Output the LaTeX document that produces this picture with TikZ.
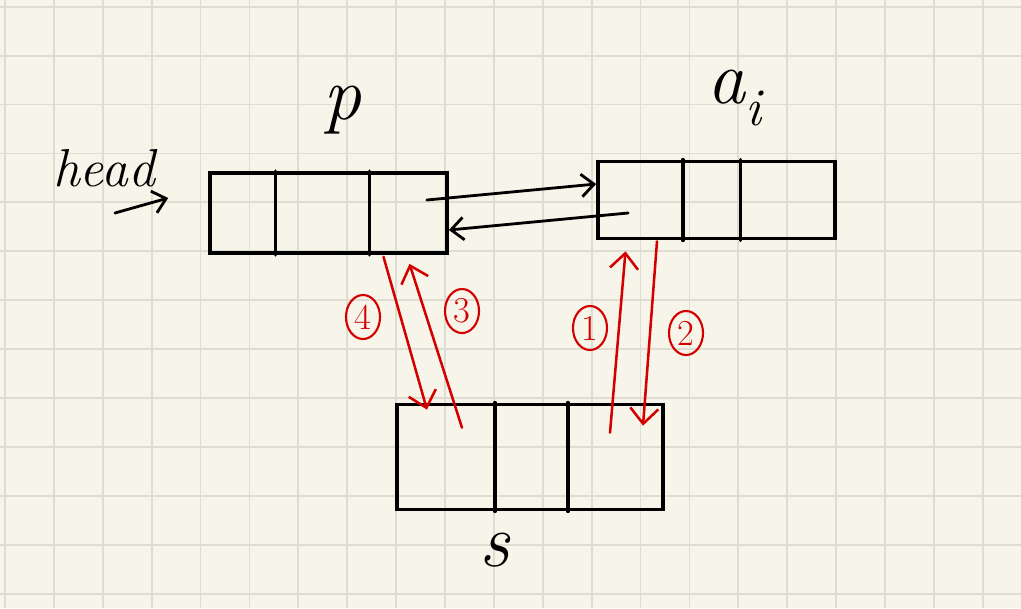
\documentclass[tikz,border=0pt]{standalone}
\usepackage{xcolor}
\usepackage{tikz}
\usetikzlibrary{positioning,calc,arrows.meta,shapes.geometric}

\definecolor{paper}{HTML}{F7F5E9}
\definecolor{gridc}{HTML}{DEDDD2}
\definecolor{pen}{HTML}{D40000}

\tikzset{
  listnode/.style={draw, rectangle, line width=2.6pt, inner sep=0pt},
  field/.style={line width=2.6pt, line cap=round},
  ptr/.style={line width=2pt, line cap=round, -{Straight Barb[length=9pt,width=16pt,line width=2pt]}},
  redptr/.style={draw=pen, line width=1.8pt, line cap=round, -{Straight Barb[length=11pt,width=20pt,line width=1.8pt]}},
  num/.style={draw=pen, text=pen, ellipse, line width=1.5pt, inner sep=0pt, minimum width=0.85cm, minimum height=1.1cm, font=\fontsize{26}{30}\selectfont},
  gridline/.style={draw=gridc, line width=1.3pt},
  biglabel/.style={font=\fontsize{54}{60}\selectfont\itshape}
}

\begin{document}
\begin{tikzpicture}[x=0.025cm, y=-0.025cm]
    % paper
    \fill[paper] (0,0) rectangle (1021,608);
    \useasboundingbox (0,0) rectangle (1021,608);
    \foreach \k in {0,...,20} \draw[gridline] (5+48.89*\k,0) -- (5+48.89*\k,608);
    \foreach \k in {0,...,12} \draw[gridline] (0,6.7+48.92*\k) -- (1021,6.7+48.92*\k);

    % Nodes
    \node (p) at (328.5,213) [listnode, minimum width=5.925cm, minimum height=2cm] {};
    \node (ai) at (716.5,200) [listnode, minimum width=5.925cm, minimum height=1.925cm] {};
    \node (s) at (530,457) [listnode, minimum width=6.65cm, minimum height=2.625cm] {};

    % fields
    \foreach \n/\f in {p/0.28, p/0.67, ai/0.36, ai/0.60, s/0.37, s/0.64}
      \draw[field] ($(\n.north west)!\f!(\n.north east)$) -- ($(\n.south west)!\f!(\n.south east)$);

    % Labels
    \node (plabel) at (342,110) [biglabel] {p};
    \node (ailabel) at (735,98) [biglabel] {a\textsubscript{i}};
    \node (slabel) at (495,550) [biglabel] {s};
    \node (head) at (104,168) [font=\fontsize{38}{44}\selectfont\itshape] {head};

    % pointers
    \draw[ptr] ($(head)+(11,45)$) -- ($(p.west)+(-40,-15)$);
    \draw[ptr] ($(p.east)+(-22,-13)$) -- ($(ai.west)+(0,-16)$);
    \draw[ptr] ($(ai.west)+(32,13)$) -- ($(p.east)+(0,17)$);

    % insertion steps
    \draw[redptr] ($(s.north)+(80,30)$) -- ($(ai.south)+(-91,11)$);
    \draw[redptr] ($(ai.south)+(-59.5,1)$) -- ($(s.north)+(113,23)$);
    \draw[redptr] ($(s.north)+(-68,25)$) -- ($(p.south)+(81,9)$);
    \draw[redptr] ($(p.south)+(55,2)$) -- ($(s.north)+(-103,7)$);

    \node (one) at (590,328) [num] {1};
    \node (two) at (686,333) [num] {2};
    \node (three) at (462,311) [num] {3};
    \node (four) at (363,317) [num] {4};
\end{tikzpicture}
\end{document}
